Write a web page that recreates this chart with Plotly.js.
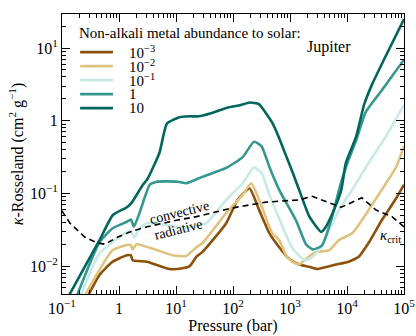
<!DOCTYPE html>
<html>
<head>
<meta charset="utf-8">
<script src="https://cdn.plot.ly/plotly-3.0.1.min.js"></script>
<style>
  html, body { margin: 0; padding: 0; background: #fff; }
  #chart { width: 416px; height: 336px; }
</style>
</head>
<body>
<div id="chart"></div>
<script>
// pressure (bar) and Rosseland opacity (cm^2/g)
var pM3 = [0.269, 0.457, 0.776, 1.38, 1.62, 1.74, 3.09, 7.76, 12.9, 17.4, 22.9, 29.5, 75.9, 120, 195, 288, 437, 646, 977, 1445, 2188, 3020, 6457, 10715, 16218, 23988, 40738, 72444, 100000];
var kM3 = [0.00355, 0.00759, 0.0115, 0.0141, 0.0141, 0.0120, 0.0115, 0.00912, 0.00933, 0.0100, 0.0135, 0.0158, 0.0389, 0.0813, 0.117, 0.0589, 0.0282, 0.0182, 0.0125, 0.0105, 0.00977, 0.00912, 0.0105, 0.0115, 0.0135, 0.0209, 0.0427, 0.0851, 0.132];

var pM2 = [0.234, 0.776, 1.38, 1.62, 1.74, 2.04, 4.57, 8.71, 15.1, 22.9, 29.5, 75.9, 148, 209, 288, 490, 646, 851, 1096, 1445, 1995, 2818, 4898, 7244, 12303, 18197, 40738, 72444, 100000];
var kM2 = [0.00355, 0.0166, 0.0195, 0.0195, 0.0170, 0.0200, 0.0166, 0.0141, 0.0138, 0.0182, 0.0209, 0.0537, 0.0955, 0.138, 0.0813, 0.0282, 0.0229, 0.0141, 0.0115, 0.0105, 0.0129, 0.0155, 0.0166, 0.0229, 0.0282, 0.0427, 0.112, 0.229, 0.447];

var pM1 = [0.200, 0.457, 0.776, 1.38, 1.62, 1.86, 2.29, 3.09, 5.13, 10.7, 17.4, 33.9, 75.9, 148, 234, 316, 437, 646, 1096, 1778, 2344, 3236, 4898, 7244, 12303, 23988, 47863, 100000];
var kM1 = [0.00355, 0.0151, 0.0214, 0.0295, 0.0302, 0.0245, 0.0331, 0.0389, 0.0380, 0.0347, 0.0347, 0.0389, 0.0813, 0.138, 0.229, 0.191, 0.0955, 0.0447, 0.0178, 0.0120, 0.0129, 0.0166, 0.0316, 0.0589, 0.112, 0.263, 0.603, 1.66];

var pP0 = [0.174, 0.457, 0.776, 1.38, 1.62, 1.82, 2.29, 3.47, 4.57, 10.7, 15.1, 29.5, 75.9, 148, 234, 316, 437, 646, 1288, 1905, 2512, 3631, 5495, 7244, 9550, 14454, 21380, 44668, 100000];
var kP0 = [0.00355, 0.0214, 0.0331, 0.0407, 0.0437, 0.0347, 0.0537, 0.132, 0.145, 0.145, 0.138, 0.170, 0.224, 0.316, 0.513, 0.447, 0.229, 0.112, 0.0417, 0.0200, 0.0170, 0.0191, 0.0479, 0.112, 0.229, 0.537, 1.32, 2.88, 6.92];

var pP1 = [0.123, 0.457, 0.776, 1.38, 1.66, 2.63, 3.16, 5.13, 6.92, 11.5, 17.4, 25.1, 39.8, 79.4, 126, 200, 282, 398, 490, 631, 851, 1122, 1445, 2188, 3548, 4266, 5888, 7943, 9550, 14454, 19953, 27542, 53703, 100000];
var kP1 = [0.00355, 0.0229, 0.0501, 0.0646, 0.0741, 0.132, 0.158, 0.363, 0.912, 1.12, 1.15, 1.15, 1.26, 1.51, 1.62, 1.78, 1.70, 1.20, 0.933, 0.603, 0.331, 0.191, 0.112, 0.0479, 0.0295, 0.0347, 0.0589, 0.112, 0.263, 0.603, 1.66, 3.16, 9.33, 25.1];

var pCrit = [0.1, 0.138, 0.251, 0.407, 0.562, 0.776, 0.955, 1.55, 3.09, 10.2, 22.9, 97.7, 380, 1445, 2455, 4898, 7943, 18197, 32359, 61660, 100000];
var kCrit = [0.0575, 0.0389, 0.0251, 0.0209, 0.0200, 0.0229, 0.0251, 0.0295, 0.0347, 0.0427, 0.0479, 0.0631, 0.0759, 0.0813, 0.0912, 0.0741, 0.0646, 0.0871, 0.0589, 0.0479, 0.0347];

var seriesNames = ['10<sup>−3</sup>', '10<sup>−2</sup>', '10<sup>−1</sup>', '1', '10'];
var xTickVals = [0.1, 1, 10, 100, 1000, 10000, 100000];
var xTickText = ['10<sup>−1</sup>', '1', '10<sup>1</sup>', '10<sup>2</sup>', '10<sup>3</sup>', '10<sup>4</sup>', '10<sup>5</sup>'];
var yTickVals = [0.01, 0.1, 1, 10];
var yTickText = ['10<sup>−2</sup>', '10<sup>−1</sup>', '1', '10<sup>1</sup>'];

var colors = ['#8c510a', '#dfc27d', '#c7eae5', '#35978f', '#01665e'];
var xs = [pM3, pM2, pM1, pP0, pP1];
var ys = [kM3, kM2, kM1, kP0, kP1];
var serif = 'Liberation Serif, Times New Roman, serif';

var data = [];
for (var i = 0; i < xs.length; i++) {
  data.push({
    type: 'scatter',
    mode: 'lines',
    x: xs[i],
    y: ys[i],
    name: seriesNames[i],
    line: {color: colors[i], width: 2.6, shape: 'spline', smoothing: 0.5},
    showlegend: false,
    hoverinfo: 'skip'
  });
}
data.push({
  type: 'scatter',
  mode: 'lines',
  x: pCrit,
  y: kCrit,
  line: {color: 'black', width: 1.6, dash: '6px,4px'},
  showlegend: false,
  hoverinfo: 'skip'
});

// hand-made legend, entries closer together than plotly's own legend allows
var shapes = [];
var annotations = [{
  xref: 'paper', yref: 'paper', x: 0.045, y: 0.932,
  xanchor: 'left', yanchor: 'middle', showarrow: false,
  text: 'Non-alkali metal abundance to solar:',
  font: {family: serif, size: 15, color: 'black'}
}];
for (var j = 0; j < seriesNames.length; j++) {
  var yy = 0.864 - j * 0.05;
  shapes.push({
    type: 'line', xref: 'paper', yref: 'paper',
    x0: 0.053, x1: 0.149, y0: yy, y1: yy,
    line: {color: colors[j], width: 2.6}
  });
  annotations.push({
    xref: 'paper', yref: 'paper', x: 0.19, y: yy,
    xanchor: 'left', yanchor: 'middle', showarrow: false,
    text: seriesNames[j],
    font: {family: serif, size: 15, color: 'black'}
  });
}
annotations.push(
  {x: 1.06, y: -1.256, xref: 'x', yref: 'y', showarrow: false, textangle: -14,
   text: 'convective', font: {family: serif, size: 14, color: 'black'}},
  {x: 1.045, y: -1.50, xref: 'x', yref: 'y', showarrow: false, textangle: -14,
   text: 'radiative', font: {family: serif, size: 14, color: 'black'}},
  {x: 4.77, y: -1.586, xref: 'x', yref: 'y', showarrow: false,
   text: '<i>κ</i><sub>crit</sub>', font: {family: serif, size: 15, color: 'black'}},
  {x: 0.851, y: 0.921, xref: 'paper', yref: 'paper', showarrow: false,
   text: 'Jupiter', font: {family: serif, size: 16, color: 'black'}}
);

var axisCommon = {
  type: 'log',
  showgrid: false,
  zeroline: false,
  showline: true,
  linecolor: 'black',
  linewidth: 1,
  mirror: 'ticks',
  ticks: 'inside',
  ticklen: 8,
  tickwidth: 1,
  tickcolor: 'black',
  tickmode: 'array',
  tickfont: {family: serif, size: 16, color: 'black'},
  minor: {ticks: 'inside', ticklen: 4, tickwidth: 1, tickcolor: 'black', dtick: 'D1', showgrid: false}
};

var layout = {
  width: 416,
  height: 336,
  margin: {l: 62, r: 12, t: 14, b: 42},
  paper_bgcolor: 'white',
  plot_bgcolor: 'white',
  font: {family: serif, color: 'black'},
  showlegend: false,
  xaxis: Object.assign({}, axisCommon, {
    range: [-1, 5],
    tickvals: xTickVals,
    ticktext: xTickText,
    title: {text: 'Pressure (bar)', font: {family: serif, size: 16, color: 'black'}, standoff: 2}
  }),
  yaxis: Object.assign({}, axisCommon, {
    range: [-2.384, 1.468],
    tickvals: yTickVals,
    ticktext: yTickText,
    title: {text: '<i>κ</i>-Rosseland (cm<sup>2</sup> g<sup>−1</sup>)', font: {family: serif, size: 16, color: 'black'}, standoff: 2}
  }),
  shapes: shapes,
  annotations: annotations
};

Plotly.newPlot('chart', data, layout, {staticPlot: true, displayModeBar: false});
</script>
</body>
</html>
